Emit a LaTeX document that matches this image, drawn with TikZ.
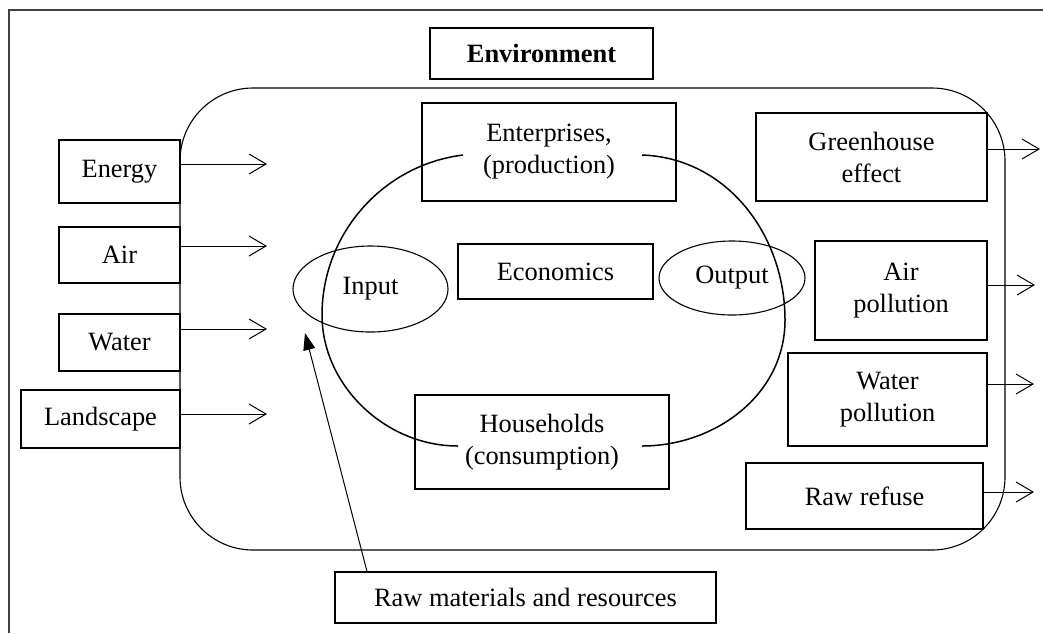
\documentclass[tikz,border=0pt]{standalone}
\usepackage{fontspec}
\setmainfont{Liberation Serif}
\usetikzlibrary{arrows.meta,shapes.geometric}

\begin{document}
\begin{tikzpicture}[x=1pt,y=-1pt,
  every node/.style={font=\fontsize{26.4}{32}\selectfont},
  box/.style={draw, line width=1.1pt, inner sep=0pt, align=center},
  oval/.style={draw, ellipse, line width=1.1pt, inner sep=0pt},
  flow/.style={line width=1pt, -{Straight Barb[length=17pt,width=20pt]}},
  feed/.style={line width=1pt, -{Triangle[length=17pt,width=12pt]}},
  cycle/.style={line width=1.5pt},
  frame/.style={line width=1.2pt, draw=black!75}]

\useasboundingbox (0,0) rectangle (1043,633);

% outer frame (left and top edges)
\draw[frame] (9,633) -- (9,10) -- (1043,10);

% environment area
\draw[line width=1.1pt, rounded corners=73pt] (180,88) rectangle (1005,550);

\node[box, font=\fontsize{26.4}{32}\selectfont\bfseries, minimum width=223pt, minimum height=51pt] (env) at (541.5,53.5) {Environment};

% natural inputs
\node[box, minimum width=121pt, minimum height=63pt] (energy) at (119.5,171.5) {Energy};
\node[box, minimum width=121pt, minimum height=56pt] (air) at (119.5,255) {Air};
\node[box, minimum width=121pt, minimum height=57pt] (water) at (119.5,342.5) {Water};
\node[box, minimum width=159pt, minimum height=58pt] (land) at (100.5,419) {Landscape};

% economic core
\node[box, minimum width=254pt, minimum height=98pt] (ent) at (549,152) {Enterprises,\\(production)};
\node[box, minimum width=195pt, minimum height=55pt] (eco) at (555.5,271.5) {Economics};
\node[box, minimum width=254pt, minimum height=94pt] (house) at (542,442) {Households\\(consumption)};
\node[oval, minimum width=155pt, minimum height=86pt] (input) at (370.5,289) {Input};
\node[oval, minimum width=146pt, minimum height=74pt] (output) at (732,278) {Output};

% resources
\node[box, minimum width=381pt, minimum height=51pt] (raw) at (525.5,597.5) {Raw materials and resources};

% emissions
\node[box, minimum width=231pt, minimum height=88pt] (green) at (871.5,157) {Greenhouse\\effect};
\node[box, minimum width=172pt, minimum height=99pt] (airpol) at (901,290.5) {Air\\pollution};
\node[box, minimum width=199pt, minimum height=93pt] (watpol) at (887.5,399.5) {Water\\pollution};
\node[box, minimum width=237pt, minimum height=66pt] (refuse) at (864.5,496) {Raw refuse};

% production-consumption cycle
\draw[cycle] (463,155) .. controls (382.5,165) and (322,234) .. (322,315)
             .. controls (322,385) and (385,446) .. (458,446);
\draw[cycle] (642,155) .. controls (727,158) and (785,235) .. (785,320)
             .. controls (785,395) and (715,446) .. (642,446);

% inflows
\coordinate (enTip) at (267,164);
\coordinate (airTip) at (267,246);
\coordinate (waTip) at (267,329);
\coordinate (laTip) at (267,414);
\draw[flow] (energy.east |- enTip) -- (enTip);
\draw[flow] (air.east |- airTip) -- (airTip);
\draw[flow] (water.east |- waTip) -- (waTip);
\draw[flow] (land.east |- laTip) -- (laTip);

% outflows
\coordinate (grTip) at (1040,149);
\coordinate (apTip) at (1035,285);
\coordinate (wpTip) at (1034,384);
\coordinate (rfTip) at (1034,492);
\draw[flow] (green.east |- grTip) -- (grTip);
\draw[flow] (airpol.east |- apTip) -- (apTip);
\draw[flow] (watpol.east |- wpTip) -- (wpTip);
\draw[flow] (refuse.east |- rfTip) -- (rfTip);

% resource feed
\coordinate (rmFoot) at (367,0);
\coordinate (rmTip) at (305,333);
\draw[feed] (raw.north -| rmFoot) -- (rmTip);
\end{tikzpicture}
\end{document}
